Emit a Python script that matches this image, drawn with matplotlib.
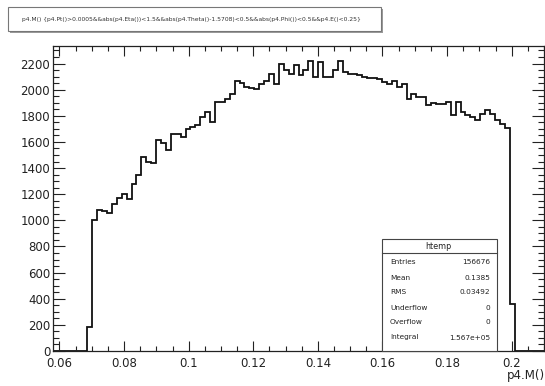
import numpy as np
import matplotlib
matplotlib.use("Agg")
import matplotlib.pyplot as plt
from matplotlib.patches import Rectangle
from matplotlib.ticker import MultipleLocator, FuncFormatter

plt.rcParams["font.family"] = ["DejaVu Sans"]

# histogram definition: 100 bins over the automatic range of p4.M()
x_min, x_max, n_bins = 0.058, 0.21, 100
first_bin = 7
counts = [
    186, 1000, 1077, 1070, 1057, 1128, 1170, 1205, 1167, 1281,
    1345, 1485, 1446, 1440, 1612, 1589, 1536, 1663, 1660, 1637,
    1701, 1714, 1727, 1790, 1828, 1752, 1905, 1905, 1930, 1969,
    2070, 2050, 2020, 2012, 2007, 2040, 2070, 2121, 2045, 2198,
    2147, 2122, 2185, 2109, 2147, 2218, 2096, 2210, 2096, 2096,
    2147, 2223, 2134, 2122, 2122, 2109, 2096, 2086, 2086, 2080,
    2060, 2045, 2070, 2020, 2045, 1931, 1969, 1943, 1943, 1880,
    1897, 1894, 1894, 1905, 1803, 1905, 1828, 1803, 1790, 1765,
    1816, 1841, 1816, 1765, 1739, 1710, 360,
]
title_text = ("p4.M() {p4.Pt()>0.0005&&abs(p4.Eta())<1.5&&abs(p4.Theta()-1.5708)<0.5"
              "&&abs(p4.Phi())<0.5&&p4.E()<0.25}")
hist_name = "htemp"
x_title = "p4.M()"

edges = np.linspace(x_min, x_max, n_bins + 1)
values = np.zeros(n_bins)
values[first_bin:first_bin + len(counts)] = counts
centers = 0.5 * (edges[:-1] + edges[1:])

W, H = 545, 386
fig = plt.figure(figsize=(W / 100, H / 100), dpi=100)
fig.patch.set_facecolor("white")

def fx(px):
    return px / W

def fy(py):
    return 1 - py / H

ax = fig.add_axes([fx(53), fy(351), fx(544) - fx(53), fy(46) - fy(351)])
ax.stairs(values, edges, baseline=0, color="#111111", lw=1.3)

ax.set_xlim(x_min, x_max)
ax.set_ylim(0, 1.05 * values.max())
ax.xaxis.set_major_locator(MultipleLocator(0.02))
ax.xaxis.set_minor_locator(MultipleLocator(0.005))
ax.yaxis.set_major_locator(MultipleLocator(200))
ax.yaxis.set_minor_locator(MultipleLocator(50))
ax.xaxis.set_major_formatter(FuncFormatter(lambda v, p: f"{v:g}"))
ax.yaxis.set_major_formatter(FuncFormatter(lambda v, p: f"{v:g}"))

ax.tick_params(axis="both", which="both", direction="in", top=True, right=True,
               colors="#222222", width=0.8, labelsize=8.5)
ax.tick_params(axis="x", which="major", length=7.2, pad=4)
ax.tick_params(axis="x", which="minor", length=3.6)
ax.tick_params(axis="y", which="major", length=8.6, pad=2)
ax.tick_params(axis="y", which="minor", length=4.3)
for s in ax.spines.values():
    s.set_color("#222222")
    s.set_linewidth(0.9)

# axis title, right-aligned at the end of the x axis
fig.text(fx(507), fy(375), x_title, fontsize=8.5, ha="left", va="center", color="#222222")

# title pave with shadow
fig.patches.append(Rectangle((fx(10), fy(33)), fx(381) - fx(8), fy(7) - fy(31),
                             transform=fig.transFigure, facecolor="#9a9a9a",
                             edgecolor="none", zorder=1))
fig.patches.append(Rectangle((fx(8), fy(31)), fx(381) - fx(8), fy(7) - fy(31),
                             transform=fig.transFigure, facecolor="white",
                             edgecolor="#777777", lw=0.8, zorder=2))
t = fig.text(fx(191), fy(19.5), title_text, fontsize=4.2, ha="center", va="center",
             color="#333333", zorder=3)
fig.canvas.draw()
bb = t.get_window_extent()
t.set_fontsize(4.2 * 345 / bb.width)

# statistics box
entries = int(values.sum())
mean = np.sum(values * centers) / values.sum()
rms = np.sqrt(np.sum(values * (centers - mean) ** 2) / values.sum())
stats = [
    ("Entries", f"{entries}"),
    ("Mean", f"{mean:.4f}"),
    ("RMS", f"{rms:.5f}"),
    ("Underflow", "0"),
    ("Overflow", "0"),
    ("Integral", f"{values.sum():.3e}"),
]
box_l, box_r, box_t, box_b = 382, 497, 239, 351
fig.patches.append(Rectangle((fx(box_l), fy(box_b)), fx(box_r) - fx(box_l),
                             fy(box_t) - fy(box_b), transform=fig.transFigure,
                             facecolor="white", edgecolor="#444444", lw=0.8, zorder=5))
fig.add_artist(plt.Line2D([fx(box_l), fx(box_r)], [fy(252.5), fy(252.5)],
                          transform=fig.transFigure, color="#444444", lw=0.8, zorder=6))
fig.text(fx(438), fy(246), hist_name, fontsize=5.8, ha="center", va="center",
         color="#222222", zorder=7)
for k, (lab, val) in enumerate(stats):
    yy = 262.5 + 15 * k
    fig.text(fx(390), fy(yy), lab, fontsize=5.3, ha="left", va="center",
             color="#222222", zorder=7)
    fig.text(fx(490), fy(yy), val, fontsize=5.3, ha="right", va="center",
             color="#222222", zorder=7)

fig.savefig("out.png", dpi=100, facecolor="white")
